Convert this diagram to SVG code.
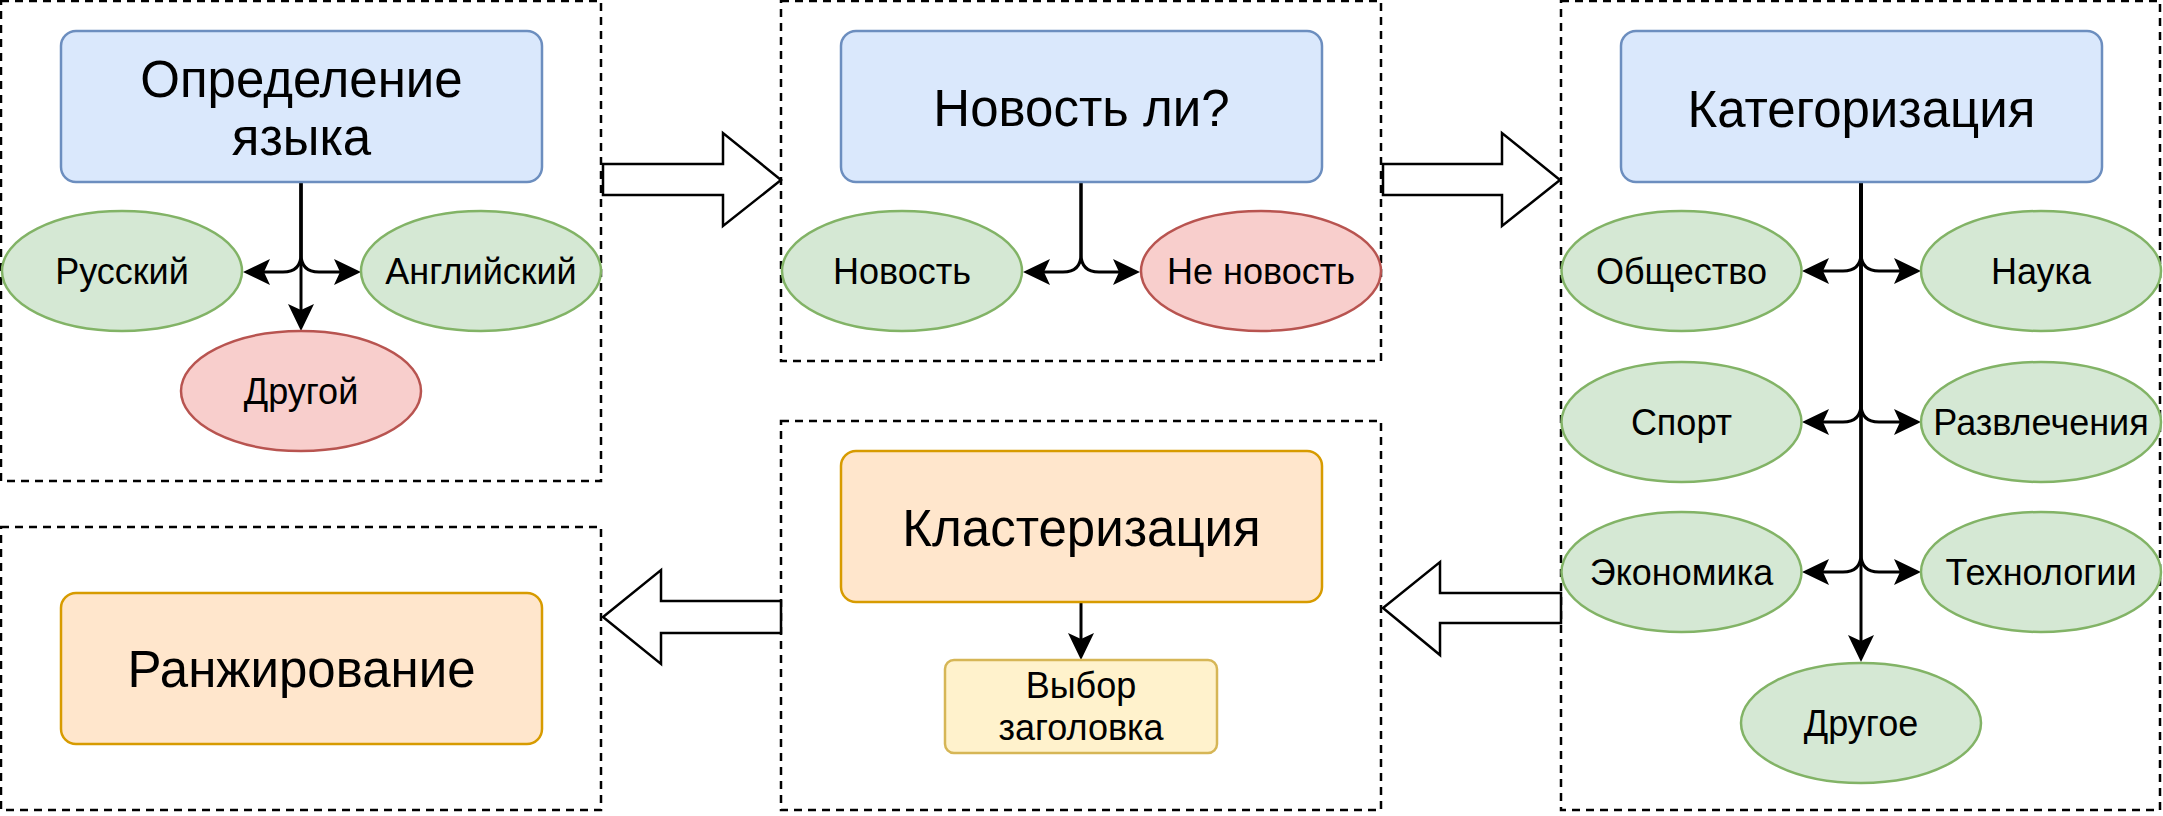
<svg xmlns="http://www.w3.org/2000/svg" width="2163" height="816" viewBox="0 0 2163 816">
<style>
.grp{fill:none;stroke:#000;stroke-width:2.5;stroke-dasharray:8 6}
.blue{fill:#dae8fc;stroke:#6c8ebf;stroke-width:2.5}
.orange{fill:#ffe6cc;stroke:#d79b00;stroke-width:2.5}
.yellow{fill:#fff2cc;stroke:#d6b656;stroke-width:2.5}
.green{fill:#d5e8d4;stroke:#82b366;stroke-width:2.5}
.red{fill:#f8cecc;stroke:#b85450;stroke-width:2.5}
.big{font-family:"Liberation Sans",Arial,sans-serif;font-size:51px;fill:#000;text-anchor:middle}
.t{font-family:"Liberation Sans",Arial,sans-serif;font-size:36px;fill:#000;text-anchor:middle}
.edge{fill:none;stroke:#000;stroke-width:3;marker-end:url(#ah)}
.flow{fill:#fff;stroke:#000;stroke-width:2.5;stroke-linejoin:miter}
</style>
<defs>
<marker id="ah" markerUnits="userSpaceOnUse" markerWidth="28" markerHeight="28" viewBox="0 0 28 28" refX="6" refY="14" orient="auto">
<path d="M0,1 L27,14 L0,27 L6,14 Z" fill="#000"/>
</marker>
</defs>
<rect width="2163" height="816" fill="#fff"/>

<g id="group-lang"><rect class="grp" x="1" y="1" width="600" height="480"/></g>
<g id="group-news"><rect class="grp" x="781" y="1" width="600" height="360"/></g>
<g id="group-cat"><rect class="grp" x="1561" y="1" width="599" height="809"/></g>
<g id="group-rank"><rect class="grp" x="1" y="527" width="600" height="283"/></g>
<g id="group-clust"><rect class="grp" x="781" y="421" width="600" height="389"/></g>

<g id="connectors">
<path class="edge" d="M301,182 V254 Q301,272 283,272 H264"/>
<path class="edge" d="M301,182 V254 Q301,272 319,272 H340"/>
<path class="edge" d="M301,182 V310"/>
<path class="edge" d="M1081,182 V254 Q1081,272 1063,272 H1044"/>
<path class="edge" d="M1081,182 V254 Q1081,272 1099,272 H1119"/>
<path class="edge" d="M1861,182 V253 Q1861,271 1843,271 H1823"/>
<path class="edge" d="M1861,182 V253 Q1861,271 1879,271 H1900"/>
<path class="edge" d="M1861,182 V404 Q1861,422 1843,422 H1823"/>
<path class="edge" d="M1861,182 V404 Q1861,422 1879,422 H1900"/>
<path class="edge" d="M1861,182 V554 Q1861,572 1843,572 H1823"/>
<path class="edge" d="M1861,182 V554 Q1861,572 1879,572 H1900"/>
<path class="edge" d="M1861,182 V641"/>
<path class="edge" d="M1081,602 V639"/>
<polygon id="flow-1" class="flow" points="603,164 723,164 723,133 781,180 723,226 723,195 603,195"/>
<polygon id="flow-2" class="flow" points="1383,164 1502,164 1502,133 1560,180 1502,226 1502,195 1383,195"/>
<polygon id="flow-3" class="flow" points="1561,593 1440,593 1440,562 1383,608 1440,655 1440,623 1561,623"/>
<polygon id="flow-4" class="flow" points="781,601 661,601 661,570 603,617 661,664 661,633 781,633"/>
</g>

<g id="lang-detect"><rect class="blue" x="61" y="31" width="481" height="151" rx="15"/>
<text class="big" x="301.5" y="97">Определение</text><text class="big" x="301.5" y="155">языка</text></g>
<g id="lang-ru"><ellipse class="green" cx="122" cy="271" rx="120" ry="60"/><text class="t" x="122" y="284">Русский</text></g>
<g id="lang-en"><ellipse class="green" cx="481" cy="271" rx="120" ry="60"/><text class="t" x="481" y="284">Английский</text></g>
<g id="lang-other"><ellipse class="red" cx="301" cy="391" rx="120" ry="60"/><text class="t" x="301" y="404">Другой</text></g>

<g id="news-check"><rect class="blue" x="841" y="31" width="481" height="151" rx="15"/>
<text class="big" x="1081.5" y="126">Новость ли?</text></g>
<g id="news-yes"><ellipse class="green" cx="902" cy="271" rx="120" ry="60"/><text class="t" x="902" y="284">Новость</text></g>
<g id="news-no"><ellipse class="red" cx="1261" cy="271" rx="120" ry="60"/><text class="t" x="1261" y="284">Не новость</text></g>

<g id="categorize"><rect class="blue" x="1621" y="31" width="481" height="151" rx="15"/>
<text class="big" x="1861.5" y="127">Категоризация</text></g>
<g id="cat-society"><ellipse class="green" cx="1681.5" cy="271" rx="120" ry="60"/><text class="t" x="1681.5" y="284">Общество</text></g>
<g id="cat-science"><ellipse class="green" cx="2041" cy="271" rx="120" ry="60"/><text class="t" x="2041" y="284">Наука</text></g>
<g id="cat-sport"><ellipse class="green" cx="1681.5" cy="422" rx="120" ry="60"/><text class="t" x="1681.5" y="435">Спорт</text></g>
<g id="cat-fun"><ellipse class="green" cx="2041" cy="422" rx="120" ry="60"/><text class="t" x="2041" y="435">Развлечения</text></g>
<g id="cat-econ"><ellipse class="green" cx="1681.5" cy="572" rx="120" ry="60"/><text class="t" x="1681.5" y="585">Экономика</text></g>
<g id="cat-tech"><ellipse class="green" cx="2041" cy="572" rx="120" ry="60"/><text class="t" x="2041" y="585">Технологии</text></g>
<g id="cat-other"><ellipse class="green" cx="1861" cy="723" rx="120" ry="60"/><text class="t" x="1861" y="736">Другое</text></g>

<g id="clustering"><rect class="orange" x="841" y="451" width="481" height="151" rx="15"/>
<text class="big" x="1081.5" y="546">Кластеризация</text></g>
<g id="headline"><rect class="yellow" x="945" y="660" width="272" height="93" rx="9"/>
<text class="t" x="1081" y="698">Выбор</text><text class="t" x="1081" y="740">заголовка</text></g>

<g id="ranking"><rect class="orange" x="61" y="593" width="481" height="151" rx="15"/>
<text class="big" x="301.5" y="687">Ранжирование</text></g>
</svg>
